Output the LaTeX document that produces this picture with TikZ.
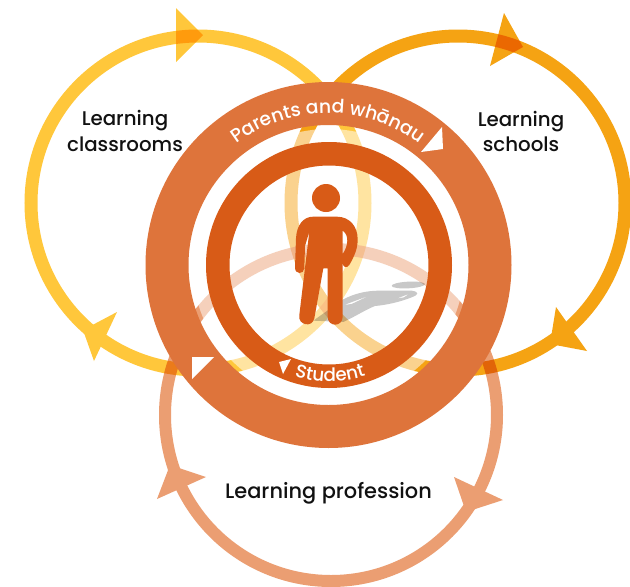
\documentclass[tikz,border=0pt]{standalone}
\usepackage{fontspec}
\setmainfont{Poppins Medium}
\usetikzlibrary{decorations.text}
\definecolor{cyel}{HTML}{FFC73B}
\definecolor{cora}{HTML}{F5A313}
\definecolor{cpea}{HTML}{EB9E72}
\definecolor{cring}{HTML}{DE743B}
\definecolor{cinner}{HTML}{D85B17}
\definecolor{cshadow}{HTML}{C8C8C8}
\definecolor{ctext}{HTML}{111111}
\tikzset{
  loop/.style={line width=13pt,fill=none,blend mode=multiply},
  lab/.style={font=\fontsize{19.8}{25.5}\selectfont,text=ctext,align=center,inner sep=0pt},
  whitetip/.style={fill=white,draw=none}
}
\begin{document}
\begin{tikzpicture}[x=1pt,y=-1pt]
\useasboundingbox (0,0) rectangle (630,587);
\clip (0,0) rectangle (630,587);
\fill[white] (0,0) rectangle (630,587);
% loops
\draw[loop,draw=cpea,line width=12pt] (331,415) circle[radius=166pt];
\fill[cpea] (206,477) -- (157,499) -- (170,465) -- cycle;
\fill[cpea] (454,477) -- (503,500) -- (466,512) -- cycle;
\draw[loop,draw=cyel] (198,203) circle[radius=167pt];
\draw[loop,draw=cora] (458,203) circle[radius=167pt];
\fill[cyel] (117,312) -- (94,361) -- (83,330) -- cycle;
\fill[cora] (556,307) -- (587,351) -- (550,344) -- cycle;
\fill[cyel,blend mode=multiply] (176,8) -- (203,35) -- (176,62) -- cycle;
\fill[cora,blend mode=multiply] (504,13) -- (523,47) -- (490,66) -- cycle;
% veil
\fill[white,opacity=.52] (328.5,265) circle[radius=136pt];
% shadow
\begin{scope}[shift={(280,170)},x=0.3333pt,y=-0.3333pt]
  \fill[cshadow,blend mode=multiply] (385,345) ellipse[x radius=50pt*0.3333,y radius=10pt*0.3333,rotate=3];
  \fill[cshadow,blend mode=multiply,even odd rule] (100,452) -- (190,388) .. controls (225,370) and (260,362) .. (300,362) -- (395,362) .. controls (420,366) and (415,375) .. (395,382) .. controls (360,396) and (320,405) .. (285,408) .. controls (255,420) and (225,440) .. (190,456) -- cycle
    (192,405) -- (270,376) -- (215,402) -- cycle
    (350,386) -- (388,371) -- (372,382) -- cycle;
  % figure
  \fill[cinner] (45,293) -- (48,205) .. controls (50,165) and (70,140) .. (100,140) -- (170,140) .. controls (210,140) and (233,170) .. (233,208) .. controls (233,235) and (225,255) .. (208,285) .. controls (200,296) and (188,292) .. (188,278) -- (188,252) .. controls (205,228) and (208,195) .. (188,182) -- (188,440) .. controls (188,472) and (143,472) .. (143,440) -- (143,295) -- (130,295) -- (103,445) .. controls (97,475) and (52,465) .. (58,435) -- (88,185) -- (75,228) -- (73,295) .. controls (72,314) and (45,314) .. (45,293) -- cycle;
\end{scope}
\fill[cinner] (326,198) circle[radius=14pt];
% rings
\fill[cring,even odd rule] (328.5,265) circle[radius=183pt] (328.5,265) circle[radius=140pt];
\fill[cinner,even odd rule] (329,265) circle[radius=123pt] (329,265) circle[radius=99.5pt];
% ring arrowheads
\fill[whitetip] (442,127) -- (443,149) -- (421,152) -- cycle;
\fill[whitetip] (192,357) -- (214,357) -- (192,379) -- cycle;
\fill[whitetip] (291,359) -- (279,362) -- (283,374) -- cycle;
% ring text
\path[decorate,decoration={text along path,text align=center,text={|\fontsize{18.8}{20}\selectfont\color{white}|Parents and whānau}}]
  (328,265) ++(140:152pt) arc[start angle=140,end angle=40,radius=152pt];
\path[decorate,decoration={text along path,text align=center,text={|\fontsize{18.4}{18}\selectfont\color{white}|Student}}]
  (329,265) ++(238:116.5pt) arc[start angle=238,end angle=303,radius=116.5pt];
% labels
\node[lab] (classrooms) at (125,131) {Learning\\classrooms};
\node[lab] (schools) at (521,131.5) {Learning\\schools};
\node[lab,font=\fontsize{20.9}{25.5}\selectfont] (profession) at (328.5,493) {Learning profession};
\end{tikzpicture}
\end{document}
